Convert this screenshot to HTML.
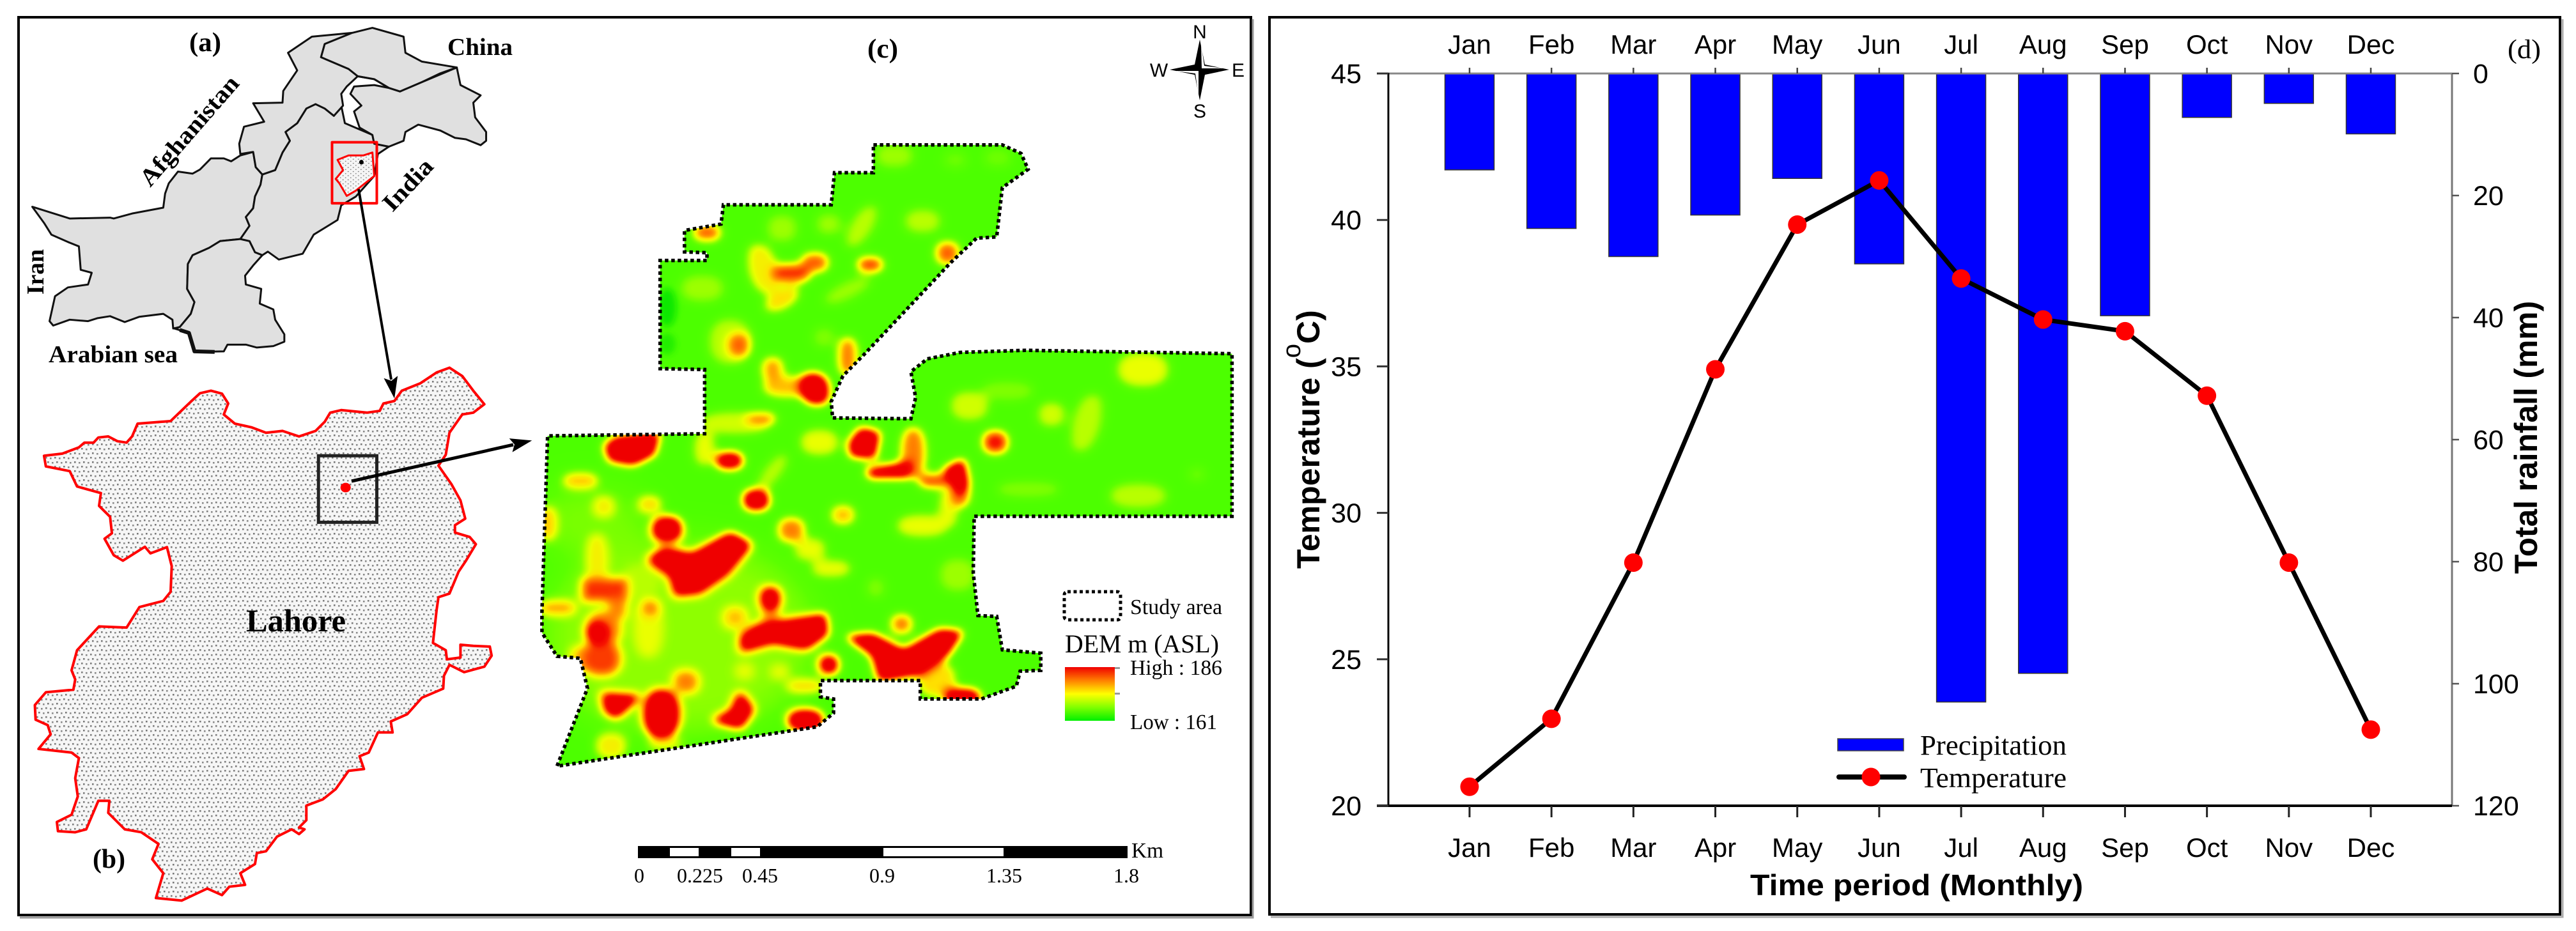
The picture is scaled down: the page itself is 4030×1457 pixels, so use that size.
<!DOCTYPE html>
<html lang="en">
<head>
<meta charset="utf-8">
<title>Study area map and monthly climate chart</title>
<style>
html,body{margin:0;padding:0;background:#fff}
svg{display:block}
.serif{font-family:"Liberation Serif",serif}
.sans{font-family:"Liberation Sans",sans-serif}
.b{font-weight:700}
.ns{vector-effect:non-scaling-stroke}
</style>
</head>
<body>
<svg id="figure" xmlns="http://www.w3.org/2000/svg" width="4030" height="1457" viewBox="0 0 4030 1457">
<defs>
<pattern id="stipple" patternUnits="userSpaceOnUse" width="14" height="14" patternTransform="scale(1.742,1.748)">
<rect width="14" height="14" fill="#f6f6f6"/>
<rect x="1" y="1" width="2.6" height="2.6" fill="#7c7c7c"/>
<rect x="8" y="2" width="2.6" height="2.6" fill="#888"/>
<rect x="4" y="8" width="2.6" height="2.6" fill="#777"/>
<rect x="11" y="9" width="2.6" height="2.6" fill="#8a8a8a"/>
</pattern>
<pattern id="stippleMini" patternUnits="userSpaceOnUse" width="14" height="14">
<rect width="14" height="14" fill="#f5f5f5"/>
<circle cx="4" cy="4" r="1.5" fill="#666"/>
<circle cx="11" cy="11" r="1.5" fill="#666"/>
</pattern>
<marker id="head" markerUnits="userSpaceOnUse" markerWidth="36" markerHeight="26" refX="4" refY="13" orient="auto">
<path d="M0 2 L34 13 L0 24 L6 13 Z" fill="#000"/>
</marker>
<filter id="terrain" filterUnits="userSpaceOnUse" x="0" y="0" width="1568" height="1568" color-interpolation-filters="sRGB">
<feMorphology operator="dilate" radius="6"/>
<feGaussianBlur stdDeviation="11"/>
<feComponentTransfer>
<feFuncR type="table" tableValues=".30 .36 .5 .72 .92 1 1 1 .97 .94 .94"/>
<feFuncG type="table" tableValues="1 1 1 1 1 .88 .62 .38 .08 0 0"/>
<feFuncB type="table" tableValues="0 0 0 0 0 0 0 0 0 0 0"/>
</feComponentTransfer>
</filter>
<filter id="broad" filterUnits="userSpaceOnUse" x="-200" y="-200" width="2000" height="2000" color-interpolation-filters="sRGB"><feGaussianBlur stdDeviation="38"/></filter>
<filter id="soft" filterUnits="userSpaceOnUse" x="0" y="0" width="1568" height="1568"><feGaussianBlur stdDeviation="7"/></filter>
<clipPath id="studyClip"><path d="M745 40 L1020 40 L1060 60 L1075 97 L1020 140 L1008 255 L965 258 L910 315 L725 530 L680 580 L655 640 L658 678 L825 680 L835 630 L825 570 L860 540 L930 525 L1070 520 L1510 528 L1510 908 L960 908 L958 1040 L968 1140 L1008 1142 L1020 1220 L1102 1228 L1102 1268 L1058 1270 L1050 1305 L975 1335 L845 1335 L845 1292 L632 1292 L632 1330 L660 1335 L660 1368 L625 1400 L70 1492 L135 1310 L120 1240 L70 1235 L38 1180 L38 1130 L50 720 L385 715 L385 565 L290 563 L290 310 L390 310 L390 292 L342 290 L342 240 L420 225 L425 180 L655 180 L662 105 L745 105 Z"/></clipPath>
<linearGradient id="ramp" x1="0" y1="0" x2="0" y2="1">
<stop offset="0" stop-color="#f00000"/><stop offset=".25" stop-color="#ff8000"/><stop offset=".5" stop-color="#ffff00"/><stop offset=".75" stop-color="#80ff00"/><stop offset="1" stop-color="#00f000"/>
</linearGradient>
</defs>

<rect width="4030" height="1457" fill="#fff"/>

<!-- LEFT PANEL -->
<rect x="29" y="27" width="1928" height="1405" fill="#fff" stroke="#000" stroke-width="4"/>
<path d="M31 1436 H1960 V30" fill="none" stroke="#999" stroke-width="3"/>

<!-- (a) Pakistan -->
<g transform="scale(.574,.459)" fill="#e0e0e0" stroke="#111" stroke-linejoin="round">
<path class="ns" stroke-width="3" d="M88 705 L190 745 L300 742 L310 745 L360 728 L445 708 L450 660 L460 625 L485 585 L525 592 L545 578 L575 540 L610 540 L630 550 L655 530 L690 518 L697 570 L715 595 L710 630 L695 670 L690 710 L670 740 L680 770 L655 815 L600 822 L570 845 L525 870 L512 900 L510 985 L530 1030 L520 1070 L490 1115 L472 1120 L470 1090 L445 1070 L380 1080 L340 1098 L300 1078 L265 1085 L240 1095 L190 1090 L145 1110 L135 1095 L150 1010 L185 980 L240 970 L250 930 L220 920 L215 840 L185 825 L140 800 L120 760 Z"/>
<path class="ns" stroke-width="3" d="M490 1115 L520 1070 L530 1030 L510 985 L512 900 L525 870 L570 845 L600 822 L655 815 L680 822 L695 860 L715 870 L690 905 L668 940 L670 970 L712 985 L708 1035 L745 1055 L750 1090 L775 1140 L775 1165 L745 1180 L700 1185 L670 1175 L620 1175 L610 1198 L530 1200 L515 1135 L475 1120 Z"/>
<path class="ns" stroke-width="3" d="M715 595 L750 580 L770 520 L790 480 L778 450 L810 420 L835 370 L860 355 L885 370 L910 395 L930 360 L940 420 L1015 460 L1020 490 L1060 500 L1030 525 L1020 600 L970 670 L930 700 L920 750 L855 800 L825 865 L760 885 L730 858 L715 870 L695 860 L680 822 L655 815 L680 770 L670 740 L690 710 L695 670 L710 630 Z"/>
<path class="ns" stroke-width="3" d="M690 518 L655 525 L652 490 L665 432 L720 415 L690 352 L770 350 L772 310 L810 240 L785 180 L850 125 L960 112 L885 150 L875 195 L950 235 L975 260 L945 295 L930 320 L935 360 L910 395 L885 370 L860 355 L835 370 L810 420 L778 450 L790 480 L770 520 L750 580 L715 595 L697 570 Z"/>
<path class="ns" stroke-width="3" d="M960 112 L1015 95 L1100 125 L1105 180 L1150 210 L1245 230 L1200 250 L1150 280 L1090 312 L1060 300 L1020 270 L975 260 L950 235 L875 195 L885 150 Z"/>
<path class="ns" stroke-width="3" d="M975 260 L1020 270 L1060 300 L1090 312 L1150 280 L1245 230 L1255 290 L1310 325 L1290 350 L1295 400 L1325 450 L1325 480 L1310 495 L1270 475 L1240 470 L1200 445 L1140 425 L1105 450 L1100 480 L1060 500 L1020 490 L1015 460 L980 435 L965 380 L985 360 L955 320 L965 295 L1020 290 L1060 300 L1020 270 Z"/>
<path class="ns" stroke-width="6" fill="none" d="M490 1125 L515 1135 L530 1198 L585 1200"/>
<path class="ns" stroke-width="3" fill="url(#stippleMini)" stroke="#f00" d="M920 545 L950 530 L990 530 L1015 520 L1020 600 L1000 620 L970 650 L945 668 L925 625 L915 610 L935 580 Z"/>
<ellipse cx="985" cy="553" rx="6" ry="8" fill="#000" stroke="none"/>
<rect class="ns" x="905" y="485" width="122" height="208" fill="none" stroke="#f00" stroke-width="4"/>
</g>
<line x1="561" y1="296" x2="612" y2="594" stroke="#000" stroke-width="4" marker-end="url(#head)"/>

<text class="serif b" x="296" y="80" font-size="42" textLength="50" lengthAdjust="spacingAndGlyphs">(a)</text>
<text class="serif b" x="700" y="86" font-size="38" textLength="102" lengthAdjust="spacingAndGlyphs">China</text>
<text class="serif b" transform="translate(235,294) rotate(-49)" font-size="38" textLength="215" lengthAdjust="spacingAndGlyphs">Afghanistan</text>
<text class="serif b" transform="translate(614,333) rotate(-47)" font-size="38" textLength="97" lengthAdjust="spacingAndGlyphs">India</text>
<text class="serif b" transform="translate(68,461) rotate(-90)" font-size="38" textLength="71" lengthAdjust="spacingAndGlyphs">Iran</text>
<text class="serif b" x="76" y="567" font-size="38" textLength="202" lengthAdjust="spacingAndGlyphs">Arabian sea</text>

<!-- (b) Lahore -->
<g transform="translate(0,560) scale(.574,.572)">
<path class="ns" fill="url(#stipple)" stroke="#f00" stroke-width="4" stroke-linejoin="round" d="M120 268 L170 262 L215 245 L230 232 L255 232 L268 218 L295 215 L320 228 L345 232 L360 215 L375 180 L465 173 L520 120 L545 97 L575 90 L605 98 L622 125 L610 155 L640 180 L685 190 L725 205 L770 200 L815 215 L860 200 L885 175 L900 150 L930 143 L1000 150 L1035 145 L1045 125 L1075 118 L1095 90 L1145 70 L1190 40 L1225 27 L1260 50 L1290 90 L1320 127 L1290 150 L1260 155 L1225 205 L1215 265 L1195 295 L1230 345 L1255 390 L1268 440 L1240 458 L1240 478 L1280 490 L1297 510 L1270 555 L1250 585 L1225 645 L1195 655 L1190 690 L1180 780 L1215 800 L1218 825 L1255 820 L1255 785 L1290 788 L1335 790 L1340 815 L1320 845 L1265 860 L1225 840 L1210 870 L1208 905 L1150 930 L1110 975 L1065 995 L1070 1025 L1030 1025 L1005 1080 L980 1090 L992 1125 L950 1130 L915 1180 L880 1208 L835 1225 L835 1265 L815 1285 L830 1290 L815 1303 L795 1290 L755 1310 L725 1350 L700 1355 L695 1385 L655 1410 L668 1442 L625 1447 L605 1470 L565 1452 L495 1485 L425 1478 L445 1410 L415 1372 L432 1330 L385 1298 L340 1290 L295 1245 L298 1212 L268 1212 L235 1290 L205 1298 L158 1295 L155 1270 L195 1250 L212 1200 L205 1150 L215 1095 L195 1080 L105 1070 L138 1030 L130 1005 L97 990 L95 950 L125 915 L200 908 L205 880 L195 855 L210 800 L270 735 L345 738 L380 682 L445 665 L465 640 L468 570 L455 518 L410 535 L395 517 L335 555 L310 540 L285 495 L305 480 L300 435 L270 405 L275 370 L210 352 L190 310 L125 297 Z"/>
<rect class="ns" x="868" y="268" width="159" height="182" fill="none" stroke="#222" stroke-width="5"/>
<ellipse cx="942" cy="355" rx="14" ry="13" fill="#f00"/>
</g>
<line x1="550" y1="753" x2="803" y2="696" stroke="#000" stroke-width="5" marker-end="url(#head)"/>
<text class="serif b" x="385" y="988" font-size="50" textLength="156" lengthAdjust="spacingAndGlyphs">Lahore</text>
<text class="serif b" x="145" y="1358" font-size="42" textLength="51" lengthAdjust="spacingAndGlyphs">(b)</text>

<!-- (c) DEM -->
<text class="serif b" x="1357" y="90" font-size="42" textLength="48" lengthAdjust="spacingAndGlyphs">(c)</text>

<g transform="translate(820,200) scale(.7334,.6696)">
<g clip-path="url(#studyClip)">
<g filter="url(#terrain)">
<rect width="1568" height="1568" fill="#000"/>
<!-- broad low relief, softened separately -->
<g filter="url(#broad)">
<ellipse cx="330" cy="1190" rx="290" ry="230" fill="#3a3a3a"/>
<ellipse cx="140" cy="920" rx="120" ry="80" fill="#303030"/>
</g>
<ellipse cx="550" cy="235" rx="28" ry="28" fill="#404040"/>
<ellipse cx="790" cy="65" rx="36" ry="24" fill="#404040"/>
<ellipse cx="1010" cy="70" rx="25" ry="18" fill="#262626"/>
<ellipse cx="920" cy="75" rx="20" ry="15" fill="#262626"/>
<ellipse cx="850" cy="218" rx="34" ry="24" fill="#4d4d4d"/>
<ellipse cx="720" cy="230" rx="18" ry="50" transform="rotate(30 720 230)" fill="#4d4d4d"/>
<ellipse cx="650" cy="225" rx="22" ry="20" fill="#404040"/>
<ellipse cx="380" cy="375" rx="42" ry="28" fill="#404040"/>
<ellipse cx="690" cy="380" rx="50" ry="14" transform="rotate(-30 690 380)" fill="#404040"/>
<ellipse cx="440" cy="500" rx="42" ry="50" fill="#4d4d4d"/>
<ellipse cx="640" cy="490" rx="18" ry="18" fill="#333"/>
<ellipse cx="1320" cy="565" rx="50" ry="36" fill="#666"/>
<ellipse cx="950" cy="650" rx="36" ry="30" fill="#595959"/>
<ellipse cx="1030" cy="615" rx="50" ry="18" fill="#333"/>
<ellipse cx="1125" cy="670" rx="24" ry="24" fill="#595959"/>
<ellipse cx="1200" cy="690" rx="26" ry="65" transform="rotate(15 1200 690)" fill="#4d4d4d"/>
<ellipse cx="1310" cy="860" rx="56" ry="26" fill="#4d4d4d"/>
<ellipse cx="1075" cy="845" rx="60" ry="15" fill="#333"/>
<ellipse cx="1435" cy="810" rx="12" ry="12" fill="#262626"/>
<ellipse cx="925" cy="1045" rx="35" ry="35" fill="#404040"/>
<ellipse cx="750" cy="1075" rx="14" ry="18" fill="#333"/>
<ellipse cx="630" cy="735" rx="36" ry="26" fill="#666"/>
<ellipse cx="530" cy="805" rx="12" ry="45" transform="rotate(35 530 805)" fill="#4d4d4d"/>
<ellipse cx="450" cy="690" rx="70" ry="22" fill="#595959"/>
<ellipse cx="385" cy="750" rx="18" ry="35" fill="#666"/>
<ellipse cx="905" cy="890" rx="16" ry="40" fill="#666"/>
<ellipse cx="850" cy="930" rx="50" ry="22" fill="#666"/>
<ellipse cx="610" cy="985" rx="28" ry="22" fill="#666"/>
<ellipse cx="655" cy="1030" rx="36" ry="16" fill="#666"/>
<ellipse cx="680" cy="905" rx="20" ry="18" fill="#8c8c8c"/>
<ellipse cx="170" cy="885" rx="18" ry="20" fill="#737373"/>
<ellipse cx="268" cy="880" rx="20" ry="16" fill="#808080"/>
<ellipse cx="120" cy="825" rx="32" ry="14" fill="#8c8c8c"/>
<ellipse cx="50" cy="925" rx="14" ry="34" fill="#8c8c8c"/>
<ellipse cx="155" cy="1010" rx="18" ry="55" fill="#737373"/>
<ellipse cx="265" cy="1170" rx="26" ry="62" fill="#666"/>
<ellipse cx="250" cy="1060" rx="35" ry="35" fill="#4d4d4d"/>
<ellipse cx="185" cy="1445" rx="28" ry="26" fill="#737373"/>
<ellipse cx="300" cy="1440" rx="30" ry="12" fill="#666"/>
<ellipse cx="470" cy="1270" rx="14" ry="14" fill="#666"/>
<ellipse cx="545" cy="1272" rx="14" ry="12" fill="#666"/>
<ellipse cx="600" cy="1305" rx="34" ry="12" fill="#808080"/>
<ellipse cx="880" cy="1290" rx="35" ry="36" fill="#808080"/>
<ellipse cx="510" cy="330" rx="26" ry="55" transform="rotate(-15 510 330)" fill="#737373"/>
<ellipse cx="550" cy="400" rx="36" ry="16" transform="rotate(-35 550 400)" fill="#808080"/>
<!-- moderate highs -->
<ellipse cx="530" cy="565" rx="18" ry="24" fill="#999"/>
<ellipse cx="690" cy="535" rx="16" ry="40" fill="#a6a6a6"/>
<ellipse cx="565" cy="605" rx="50" ry="20" fill="#8c8c8c"/>
<ellipse cx="505" cy="680" rx="26" ry="10" fill="#a6a6a6"/>
<ellipse cx="570" cy="940" rx="24" ry="24" fill="#a6a6a6"/>
<ellipse cx="830" cy="760" rx="22" ry="55" fill="#a6a6a6"/>
<ellipse cx="875" cy="825" rx="28" ry="12" fill="#bfbfbf"/>
<ellipse cx="930" cy="850" rx="16" ry="32" fill="#b3b3b3"/>
<ellipse cx="70" cy="1122" rx="34" ry="12" fill="#999"/>
<ellipse cx="270" cy="1122" rx="14" ry="14" fill="#a6a6a6"/>
<ellipse cx="345" cy="1295" rx="22" ry="22" fill="#a6a6a6"/>
<ellipse cx="805" cy="1160" rx="18" ry="18" fill="#a6a6a6"/>
<ellipse cx="450" cy="1145" rx="20" ry="20" fill="#8c8c8c"/>
<ellipse cx="525" cy="1135" rx="12" ry="32" fill="#999"/>
<ellipse cx="125" cy="1240" rx="22" ry="24" fill="#8c8c8c"/>
<ellipse cx="170" cy="1170" rx="32" ry="36" fill="#a6a6a6"/>
<ellipse cx="165" cy="1240" rx="36" ry="36" fill="#bfbfbf"/>
<rect x="128" y="1058" width="88" height="44" fill="#c4c4c4"/>
<rect x="185" y="1090" width="28" height="50" fill="#a6a6a6"/>
<ellipse cx="620" cy="315" rx="24" ry="18" fill="#b3b3b3"/>
<ellipse cx="570" cy="340" rx="36" ry="18" fill="#c4c4c4"/>
<ellipse cx="390" cy="245" rx="24" ry="15" fill="#b3b3b3"/>
<ellipse cx="738" cy="320" rx="22" ry="13" fill="#c4c4c4"/>
<ellipse cx="903" cy="293" rx="20" ry="22" fill="#b3b3b3"/>
<ellipse cx="458" cy="508" rx="18" ry="22" fill="#b3b3b3"/>
<ellipse cx="1005" cy="735" rx="22" ry="22" fill="#d0d0d0"/>
<!-- red cores -->
<path d="M175 745 L200 725 L285 715 L275 760 L230 785 L185 775 Z" fill="#fff"/>
<ellipse cx="438" cy="778" rx="24" ry="16" fill="#fff"/>
<ellipse cx="495" cy="870" rx="24" ry="21" fill="#fff"/>
<ellipse cx="305" cy="938" rx="28" ry="26" fill="#fff"/>
<path d="M270 1010 L300 985 L360 1000 L440 950 L480 975 L430 1040 L370 1085 L325 1090 L315 1045 Z" fill="#fff"/>
<ellipse cx="525" cy="1100" rx="17" ry="22" fill="#fff"/>
<path d="M465 1190 L500 1165 L640 1140 L645 1180 L600 1215 L530 1200 L465 1220 Z" fill="#fff"/>
<path d="M695 1190 L740 1185 L810 1225 L890 1175 L930 1180 L900 1230 L840 1275 L760 1290 L745 1230 Z" fill="#fff"/>
<ellipse cx="650" cy="1255" rx="16" ry="18" fill="#fff"/>
<ellipse cx="935" cy="1332" rx="34" ry="18" fill="#fff"/>
<ellipse cx="600" cy="1385" rx="34" ry="22" fill="#fff"/>
<path d="M460 1325 L485 1360 L460 1400 L410 1385 L445 1365 Z" fill="#fff"/>
<ellipse cx="293" cy="1370" rx="34" ry="52" fill="#fff"/>
<path d="M170 1325 L240 1330 L195 1375 L175 1360 Z" fill="#fff"/>
<ellipse cx="155" cy="1180" rx="18" ry="18" fill="#fff"/>
<path d="M695 740 L720 705 L755 715 L745 770 L700 765 Z" fill="#fff"/>
<path d="M735 800 L820 785 L815 815 L740 815 Z" fill="#fff"/>
<path d="M900 800 L935 780 L945 830 L930 850 Z" fill="#fff"/>
<ellipse cx="620" cy="610" rx="26" ry="34" transform="rotate(-20 620 610)" fill="#fff"/>
</g>
<ellipse cx="305" cy="420" rx="20" ry="45" fill="#08e800" filter="url(#soft)"/>
<ellipse cx="305" cy="505" rx="18" ry="25" fill="#20ee00" filter="url(#soft)"/>
</g>
<path class="ns" fill="none" stroke="#000" stroke-width="5.5" stroke-dasharray="5.5 4.5" d="M745 40 L1020 40 L1060 60 L1075 97 L1020 140 L1008 255 L965 258 L910 315 L725 530 L680 580 L655 640 L658 678 L825 680 L835 630 L825 570 L860 540 L930 525 L1070 520 L1510 528 L1510 908 L960 908 L958 1040 L968 1140 L1008 1142 L1020 1220 L1102 1228 L1102 1268 L1058 1270 L1050 1305 L975 1335 L845 1335 L845 1292 L632 1292 L632 1330 L660 1335 L660 1368 L625 1400 L70 1492 L135 1310 L120 1240 L70 1235 L38 1180 L38 1130 L50 720 L385 715 L385 565 L290 563 L290 310 L390 310 L390 292 L342 290 L342 240 L420 225 L425 180 L655 180 L662 105 L745 105 Z"/>
</g>

<!-- Compass -->
<g>
<path d="M1877 62 L1885 101 L1923 109 L1885 117 L1877 157 L1869 117 L1830 109 L1869 101 Z" fill="#000"/>
<path d="M1879 68 L1884 103 L1915 107 L1880 107 Z M1875 150 L1870 115 L1838 111 L1875 111 Z" fill="#fff"/>
<text class="sans" x="1877" y="60" font-size="30" text-anchor="middle">N</text>
<text class="sans" x="1813" y="120" font-size="30" text-anchor="middle">W</text>
<text class="sans" x="1937" y="120" font-size="30" text-anchor="middle">E</text>
<text class="sans" x="1877" y="184" font-size="30" text-anchor="middle">S</text>
</g>

<!-- Map legend -->
<g>
<rect x="1665" y="926" width="88" height="44" rx="5" fill="none" stroke="#000" stroke-width="5" stroke-dasharray="5 4.5"/>
<text class="serif" x="1768" y="961" font-size="34" textLength="144" lengthAdjust="spacingAndGlyphs">Study area</text>
<text class="serif" x="1666" y="1021" font-size="40" textLength="241" lengthAdjust="spacingAndGlyphs">DEM m (ASL)</text>
<rect x="1666" y="1044" width="78" height="84" fill="url(#ramp)"/>
<rect x="1744" y="1044" width="8" height="3" fill="#999"/>
<rect x="1744" y="1084" width="8" height="3" fill="#999"/>
<text class="serif" x="1768" y="1056" font-size="34" textLength="144" lengthAdjust="spacingAndGlyphs">High : 186</text>
<text class="serif" x="1768" y="1141" font-size="34" textLength="136" lengthAdjust="spacingAndGlyphs">Low : 161</text>
</g>

<!-- Scale bar -->
<g>
<rect x="998" y="1324" width="766" height="19" fill="#000"/>
<rect x="1048" y="1327" width="45" height="13" fill="#fff"/>
<rect x="1144" y="1327" width="45" height="13" fill="#fff"/>
<rect x="1382" y="1327" width="188" height="13" fill="#fff"/>
<text class="serif" x="1770" y="1342" font-size="34" textLength="50" lengthAdjust="spacingAndGlyphs">Km</text>
<text class="serif" x="1000" y="1381" font-size="32" text-anchor="middle">0</text>
<text class="serif" x="1095" y="1381" font-size="32" text-anchor="middle">0.225</text>
<text class="serif" x="1189" y="1381" font-size="32" text-anchor="middle">0.45</text>
<text class="serif" x="1380" y="1381" font-size="32" text-anchor="middle">0.9</text>
<text class="serif" x="1571" y="1381" font-size="32" text-anchor="middle">1.35</text>
<text class="serif" x="1762" y="1381" font-size="32" text-anchor="middle">1.8</text>
</g>

<!-- RIGHT PANEL -->
<rect x="1986" y="27" width="2019" height="1404" fill="#fff" stroke="#000" stroke-width="4"/>
<path d="M1988 1435 H4009 V30" fill="none" stroke="#aaa" stroke-width="3"/>
<g id="chart"></g>
<text class="serif" x="3923" y="91" font-size="42" textLength="52" lengthAdjust="spacingAndGlyphs">(d)</text>
<text class="sans b" x="2738" y="1401" font-size="46" textLength="521" lengthAdjust="spacingAndGlyphs">Time period (Monthly)</text>
<text class="sans b" transform="translate(2064,890) rotate(-90)" font-size="50">Temperature (<tspan font-size="40" font-weight="400" dy="-30">o</tspan><tspan dy="30">C)</tspan></text>
<text class="sans b" transform="translate(3969,898) rotate(-90)" font-size="50" textLength="427" lengthAdjust="spacingAndGlyphs">Total rainfall (mm)</text>

<g>
<rect x="2875" y="1156" width="103" height="19" fill="#0000ff" stroke="#444" stroke-width="1.5"/>
<text class="serif" x="3004" y="1181" font-size="44" textLength="229" lengthAdjust="spacingAndGlyphs">Precipitation</text>
<line x1="2877" y1="1216" x2="2979" y2="1216" stroke="#000" stroke-width="8" stroke-linecap="round"/>
<circle cx="2927" cy="1216" r="14.5" fill="#f00"/>
<text class="serif" x="3004" y="1232" font-size="44" textLength="229" lengthAdjust="spacingAndGlyphs">Temperature</text>
</g>
</svg>

<script>
const months = ["Jan","Feb","Mar","Apr","May","Jun","Jul","Aug","Sep","Oct","Nov","Dec"];
const rainfall = [15.8,25.4,30,23.2,17.2,31.2,103,98.3,39.7,7.2,4.9,9.9];
const temperature = [20.65,22.97,28.3,34.9,39.84,41.35,38,36.6,36.2,34,28.3,22.6];
const temperatureTicks = [20,25,30,35,40,45];
const rainfallTicks = [0,20,40,60,80,100,120];

const SVGNS = "http://www.w3.org/2000/svg";
const chart = document.getElementById("chart");
const plot = {left:2172, right:3836, top:115, bottom:1261};

function xAt(i){ return 2299 + i * (3709 - 2299) / (months.length - 1); }
function yTemp(v){ return plot.bottom - (v - 20) / 25 * (plot.bottom - plot.top); }
function yRain(v){ return plot.top + v / 120 * (plot.bottom - plot.top); }

function mk(tag, attrs, text){
  const n = document.createElementNS(SVGNS, tag);
  for (const k in attrs) n.setAttribute(k, attrs[k]);
  if (text !== undefined) n.textContent = text;
  chart.appendChild(n);
  return n;
}
const SANS = '"Liberation Sans", sans-serif';
let el;

rainfall.forEach(function(v, i){
  el = mk("rect", {x:xAt(i)-38.5, y:yRain(0), width:77, height:yRain(v)-yRain(0), fill:"#0000ff", stroke:"#333", "stroke-width":1.5});
  
  
});

el = mk("line", {x1:plot.left, y1:plot.top, x2:plot.right, y2:plot.top, stroke:"#888", "stroke-width":3});


el = mk("line", {x1:plot.right, y1:plot.top, x2:plot.right, y2:plot.bottom, stroke:"#777", "stroke-width":3});


el = mk("line", {x1:plot.left, y1:plot.top-1, x2:plot.left, y2:plot.bottom, stroke:"#000", "stroke-width":3});


el = mk("line", {x1:plot.left-18, y1:plot.bottom, x2:plot.right, y2:plot.bottom, stroke:"#000", "stroke-width":4});



months.forEach(function(m, i){
  const x = xAt(i);
  el = mk("line", {x1:x, y1:plot.top, x2:x, y2:plot.top-9, stroke:"#444", "stroke-width":2.5});
  
  
  el = mk("line", {x1:x, y1:plot.bottom, x2:x, y2:plot.bottom+18, stroke:"#222", "stroke-width":3});
  
  
  el = mk("text", {x:x, y:84, "font-family":SANS, "font-size":42, "text-anchor":"middle"}, m);
  
  
  el = mk("text", {x:x, y:1341, "font-family":SANS, "font-size":42, "text-anchor":"middle"}, m);
  
  
});

temperatureTicks.forEach(function(t){
  const y = yTemp(t);
  el = mk("line", {x1:plot.left-18, y1:y, x2:plot.left, y2:y, stroke:"#333", "stroke-width":3});
  
  
  el = mk("text", {x:2130, y:y+15, "font-family":SANS, "font-size":43, "text-anchor":"end"}, t);
  
  
});

rainfallTicks.forEach(function(r){
  const y = yRain(r);
  el = mk("line", {x1:plot.right, y1:y, x2:plot.right+11, y2:y, stroke:"#555", "stroke-width":2.5});
  
  
  el = mk("text", {x:3869, y:y+15, "font-family":SANS, "font-size":43}, r);
  
  
});

el = mk("polyline", {points:temperature.map(function(t, i){ return xAt(i) + "," + yTemp(t); }).join(" "), fill:"none", stroke:"#000", "stroke-width":7, "stroke-linejoin":"round"});



temperature.forEach(function(t, i){
  el = mk("circle", {cx:xAt(i), cy:yTemp(t), r:14.5, fill:"#ff0000"});
  
  
});
</script>
</body>
</html>
